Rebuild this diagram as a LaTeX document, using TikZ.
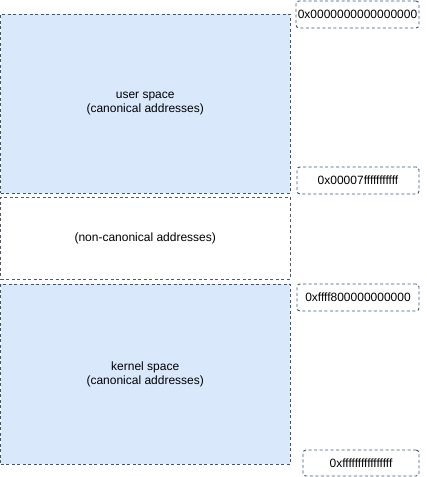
\documentclass[tikz,border=0pt]{standalone}
\usepackage{fontspec}
\setmainfont{Liberation Sans}
\usetikzlibrary{positioning}

\definecolor{spaceFill}{HTML}{DAE8FC}
\definecolor{spaceLine}{HTML}{35587F}
\definecolor{gapLine}{HTML}{4F5A66}

\begin{document}
\begin{tikzpicture}[
  x=1pt, y=-1pt,
  every node/.style={font=\fontsize{12}{14}\selectfont, inner sep=0pt, align=center},
  region/.style={rectangle, draw=spaceLine, fill=spaceFill, line width=0.9pt, dash pattern=on 3pt off 2.5pt, minimum width=289.5pt},
  gapregion/.style={region, fill=white, draw=gapLine},
  addr/.style={rectangle, rounded corners=3pt, draw=spaceLine, fill=white, line width=0.9pt, dash pattern=on 3pt off 2.5pt, minimum width=122pt, minimum height=27pt}
]
  \useasboundingbox (0,0) rectangle (427,477);

  % address space regions
  \node[region, minimum height=179pt] (user) at (145.25,103.5) {user space\\(canonical addresses)};
  \node[gapregion, minimum height=82pt] (hole) at (145.25,238) {(non-canonical addresses)};
  \node[region, minimum height=180pt] (kernel) at (145.25,374) {kernel space\\(canonical addresses)};

  % boundary addresses
  \node[addr, minimum width=123pt] (a0) at (357.5,14.5) {0x0000000000000000};
  \node[addr] (a1) at (358,180.5) {0x00007fffffffffff};
  \node[addr] (a2) at (358,297.5) {0xffff800000000000};
  \node[addr, minimum width=116pt, minimum height=26pt] (a3) at (361,463) {0xffffffffffffffff};
\end{tikzpicture}
\end{document}
